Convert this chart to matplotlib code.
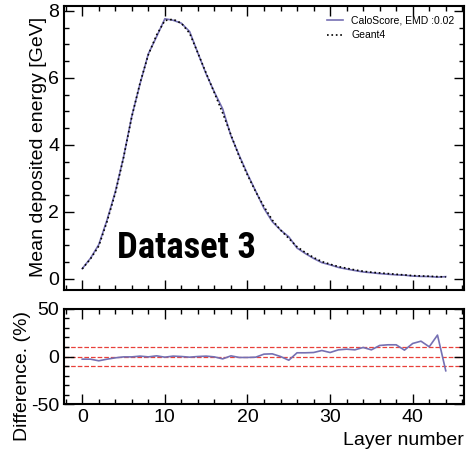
import matplotlib
matplotlib.use("Agg")
import matplotlib.pyplot as plt
from matplotlib.ticker import MultipleLocator
import numpy as np

plt.rcParams['font.family'] = ['Liberation Sans', 'DejaVu Sans']
plt.rcParams['axes.unicode_minus'] = False

layers = list(range(45))
geant4 = [0.30, 0.60, 0.98, 1.71, 2.56, 3.62, 4.84, 5.85, 6.69, 7.28, 7.71, 7.75,
          7.63, 7.33, 6.74, 6.14, 5.55, 4.95, 4.30, 3.65, 3.10, 2.60, 2.16, 1.76,
          1.46, 1.21, 0.96, 0.79, 0.64, 0.52, 0.44, 0.37, 0.32, 0.27, 0.23, 0.20,
          0.18, 0.16, 0.14, 0.12, 0.10, 0.09, 0.08, 0.07, 0.06]
diff = [-2.8, -2.8, -4.5, -2.8, -1.4, -0.4, -0.4, 0.4, -0.4, 0.7, -0.7, 0.4,
        0.0, -0.7, 0.0, 0.4, -0.4, -2.5, 0.7, -1.0, -1.0, -0.7, 2.5, 2.8,
        0.0, -3.9, 3.9, 3.9, 4.2, 6.3, 4.2, 7.0, 7.7, 7.0, 9.5, 7.0,
        11.6, 12.3, 12.3, 6.7, 13.7, 16.1, 10.2, 22.5, -15.0]
caloscore = [g * (1 - d / 100.0) for g, d in zip(geant4, diff)]
ref_lines = [-10, 0, 10]

blue = '#7570b3'

fig = plt.figure(figsize=(4.71, 4.49), dpi=100)
ax1 = fig.add_axes([0.136, 0.354, 0.849, 0.633])
ax2 = fig.add_axes([0.136, 0.100, 0.849, 0.212], sharex=ax1)

ax1.plot(layers, caloscore, color=blue, lw=1.2, label='CaloScore, EMD :0.02')
ax1.plot(layers, geant4, color='black', lw=1.2, ls=':', label='Geant4')
ax1.set_ylabel('Mean deposited energy [GeV]', fontsize=14)
ax1.yaxis.set_label_coords(-0.043, 0.505)
ax1.legend(loc='upper right', frameon=False, fontsize=7.5, handlelength=1.5)
ax1.text(0.307, 0.113, 'Dataset 3', transform=ax1.transAxes, ha='center', va='baseline',
         fontsize=26.5, fontweight='bold',
         family=['Roboto Condensed', 'Liberation Sans Narrow', 'Roboto'])
ax1.yaxis.set_major_locator(MultipleLocator(2))
ax1.yaxis.set_minor_locator(MultipleLocator(0.5))
plt.setp(ax1.get_xticklabels(), visible=False)

for v in ref_lines:
    ax2.axhline(v, color='#e8403a', ls='--', lw=0.9, zorder=1)
ax2.plot(layers, diff, color=blue, lw=1.2, zorder=2)
ax2.set_ylim(-50, 50)
ax2.set_ylabel('Difference. (%)', fontsize=14)
ax2.yaxis.set_label_coords(-0.082, 0.3)
ax2.set_xlabel('Layer number', fontsize=14, loc='right')
ax2.yaxis.set_major_locator(MultipleLocator(50))
ax2.yaxis.set_minor_locator(MultipleLocator(10))

for ax in (ax1, ax2):
    ax.xaxis.set_major_locator(MultipleLocator(10))
    ax.xaxis.set_minor_locator(MultipleLocator(2))
    ax.tick_params(which='both', direction='in', top=True, right=True, labelsize=14, width=1)
    ax.tick_params(which='major', length=7)
    ax.tick_params(which='minor', length=3.5)
    for s in ax.spines.values():
        s.set_linewidth(1.5)

fig.savefig('out.png', dpi=100)
